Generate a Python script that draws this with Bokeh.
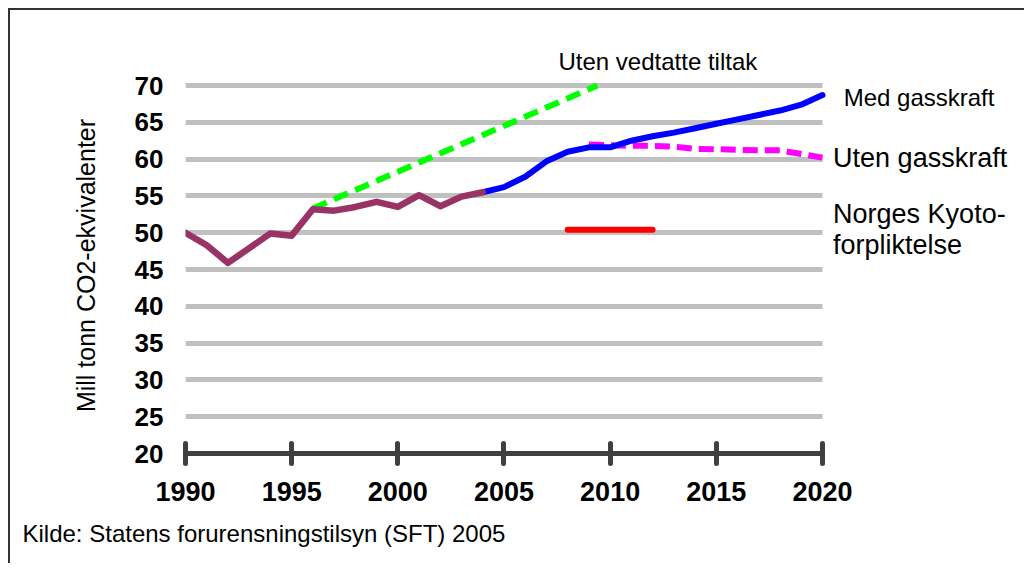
from bokeh.plotting import figure
from bokeh.models import Label, FixedTicker, Range1d, Title
from bokeh.embed import file_html
from bokeh.resources import INLINE

# ---- data ----
years_hist = [1990, 1991, 1992, 1993, 1994, 1995, 1996, 1997, 1998, 1999, 2000, 2001, 2002, 2003, 2004]
hist = [50.0, 48.3, 45.9, 47.9, 49.9, 49.6, 53.2, 53.0, 53.5, 54.2, 53.5, 55.1, 53.6, 54.9, 55.5]

years_med = [2004, 2005, 2006, 2007, 2008, 2009, 2010, 2011, 2012, 2013, 2014, 2015, 2016, 2017, 2018, 2019, 2020]
med_gass = [55.5, 56.2, 57.6, 59.7, 61.0, 61.6, 61.6, 62.5, 63.1, 63.6, 64.2, 64.8, 65.4, 66.0, 66.6, 67.4, 68.7]

years_uten = [2009, 2010, 2011, 2012, 2013, 2014, 2015, 2016, 2017, 2018, 2019, 2020]
uten_gass = [62.0, 61.9, 61.8, 61.8, 61.7, 61.4, 61.35, 61.25, 61.2, 61.2, 60.7, 60.2]

years_tiltak = [1996, 2009.4]
uten_tiltak = [53.3, 70.0]

years_kyoto = [2008, 2012]
kyoto = [50.4, 50.4]

x_ticks = [1990, 1995, 2000, 2005, 2010, 2015, 2020]
y_ticks = [20, 25, 30, 35, 40, 45, 50, 55, 60, 65, 70]

FONT = "Liberation Sans"

p = figure(width=1016, height=555, output_backend="svg", toolbar_location=None,
           x_range=Range1d(1990, 2029.61), y_range=Range1d(20, 71.09),
           min_border_left=175, min_border_right=0, min_border_top=67, min_border_bottom=112)
p.styles = {"border-left": "2px solid #333333", "border-top": "2px solid #333333",
            "margin-left": "8px", "margin-top": "8px"}
p.outline_line_color = None
p.background_fill_color = "white"
p.border_fill_color = "white"

# grid
p.xgrid.visible = False
p.ygrid.ticker = FixedTicker(ticks=y_ticks[1:])
p.ygrid.grid_line_color = "#c0c0c0"
p.ygrid.grid_line_width = 5
p.ygrid.cross_bounds = (1990, 2020)

# x axis
p.xaxis.ticker = FixedTicker(ticks=x_ticks)
p.xaxis.bounds = (1990, 2020)
p.xaxis.axis_line_color = "#404040"
p.xaxis.axis_line_width = 5
p.xaxis.axis_line_cap = "round"
p.xaxis.major_tick_line_color = "#404040"
p.xaxis.major_tick_line_width = 5
p.xaxis.major_tick_line_cap = "round"
p.xaxis.major_tick_in = 10
p.xaxis.major_tick_out = 10
p.xaxis.minor_tick_line_color = None
p.xaxis.major_label_text_font = FONT
p.xaxis.major_label_text_font_style = "bold"
p.xaxis.major_label_text_font_size = "27px"
p.xaxis.major_label_text_color = "black"
p.xaxis.major_label_standoff = 18

# y axis
p.yaxis.ticker = FixedTicker(ticks=y_ticks)
p.yaxis.bounds = (20, 70)
p.yaxis.axis_line_color = None
p.yaxis.major_tick_line_color = None
p.yaxis.minor_tick_line_color = None
p.yaxis.major_tick_out = 0
p.yaxis.major_tick_in = 0
p.yaxis.major_label_text_font = FONT
p.yaxis.major_label_text_font_style = "bold"
p.yaxis.major_label_text_font_size = "26px"
p.yaxis.major_label_text_color = "black"
p.yaxis.major_label_standoff = 22
p.yaxis.axis_label = "Mill tonn CO2-ekvivalenter"
p.yaxis.axis_label_text_font = FONT
p.yaxis.axis_label_text_font_style = "normal"
p.yaxis.axis_label_text_font_size = "25px"
p.yaxis.axis_label_text_color = "black"
p.yaxis.axis_label_standoff = 32

# lines
p.line(years_tiltak, uten_tiltak, line_color="#00ff00", line_width=6, line_dash="15 8")
p.line(years_uten, uten_gass, line_color="#ff00ff", line_width=6, line_dash="15 7")
p.line(years_med, med_gass, line_color="#0000ff", line_width=6, line_join="round", line_cap="round")
p.line(years_hist, hist, line_color="#993366", line_width=6.5, line_join="round", line_cap="round")
p.line(years_kyoto, kyoto, line_color="#ff0000", line_width=6, line_cap="round")

def lab(x, y, t, size, align="left"):
    p.add_layout(Label(x=x, y=y, text=t, text_font=FONT, text_font_size=size,
                       text_align=align, text_baseline="middle", text_color="black"))

lab(2021.0, 68.4, "Med gasskraft", "24px")
lab(2020.5, 60.1, "Uten gasskraft", "27px")
lab(2020.5, 52.6, "Norges Kyoto-", "27px")
lab(2020.5, 48.3, "forpliktelse", "27px")

p.add_layout(Title(text="Uten vedtatte tiltak", align="left", offset=373,
                   text_font=FONT, text_font_size="24px", text_font_style="normal",
                   text_color="black", standoff=5), "above")

p.add_layout(Title(text="Kilde: Statens forurensningstilsyn (SFT) 2005", align="left",
                   offset=-163, text_font=FONT, text_font_size="24px",
                   text_font_style="normal", text_color="black", standoff=28), "below")

open("out.html", "w").write(file_html(p, INLINE))
